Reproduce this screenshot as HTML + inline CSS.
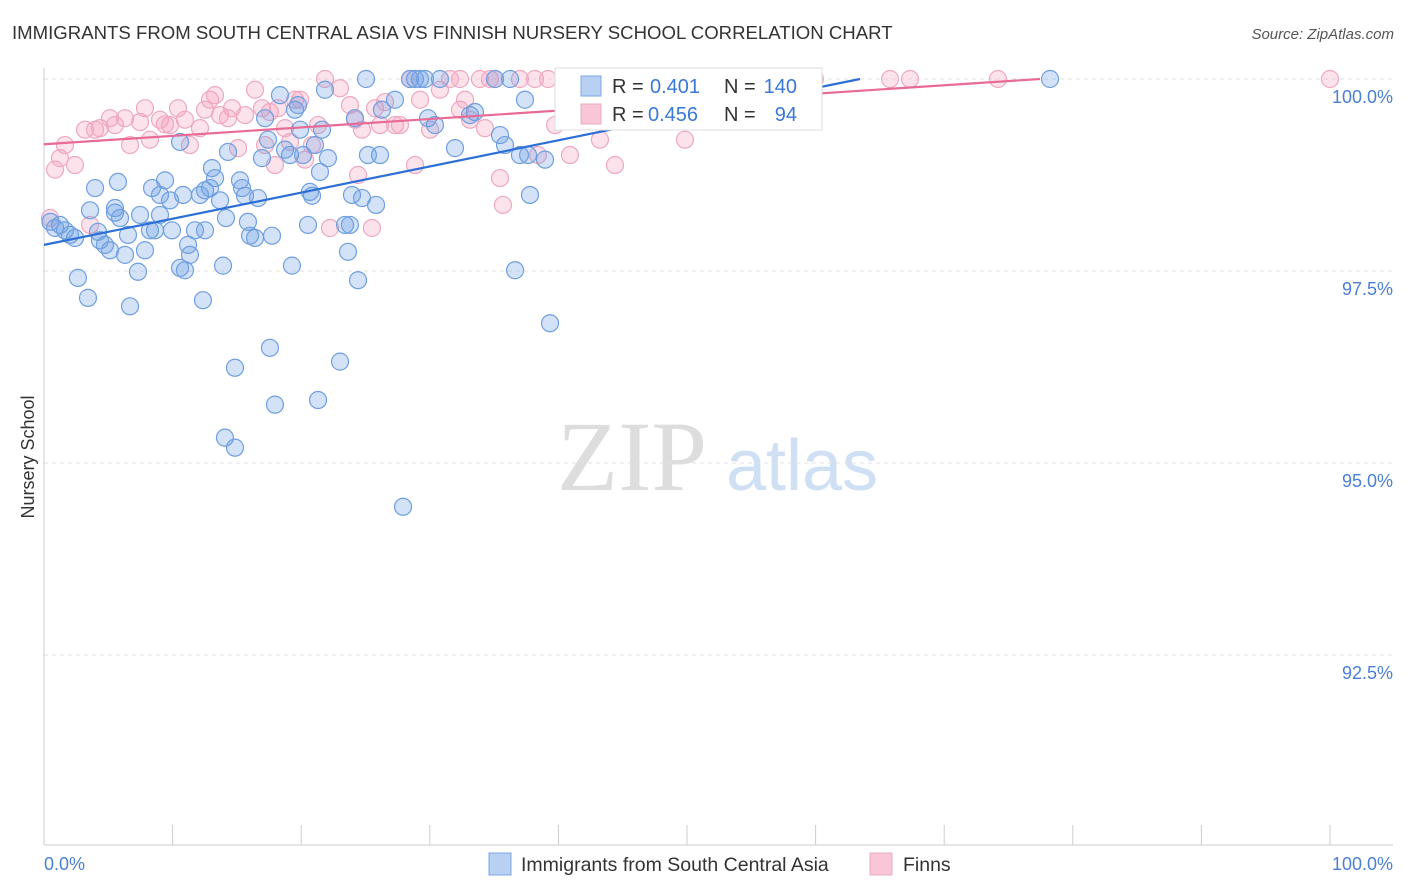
<!DOCTYPE html>
<html><head><meta charset="utf-8">
<style>
body{margin:0;background:#fff;font-family:"Liberation Sans",sans-serif;}
svg{display:block}
</style></head>
<body>
<svg id="chart" width="1406" height="892">
<text x="12" y="39" font-size="18.6" fill="#333">IMMIGRANTS FROM SOUTH CENTRAL ASIA VS FINNISH NURSERY SCHOOL CORRELATION CHART</text>
<text x="1394" y="39" font-size="15" fill="#555" font-style="italic" text-anchor="end">Source: ZipAtlas.com</text>
<text transform="translate(34,457) rotate(-90)" font-size="18" fill="#333" text-anchor="middle">Nursery School</text>
<g>
<text x="632" y="490" font-size="100" fill="#ddd" text-anchor="middle" font-family="Liberation Serif">ZIP</text>
<text x="802" y="490" font-size="72" fill="#cfe0f5" text-anchor="middle">atlas</text>
</g>
<g id="grid"></g>
<g id="axes"></g>
<g id="pts"></g>
<g id="lines"></g>
<g>
<rect x="555" y="68" width="267" height="62" fill="#fff" stroke="#ddd"/>
<rect x="581" y="76" width="20" height="20" fill="#b8d0f2" stroke="#7aa7e6"/>
<text x="612" y="93" font-size="20" fill="#333">R =</text>
<text x="650" y="93" font-size="20" fill="#3a78d6">0.401</text>
<text x="724" y="93" font-size="20" fill="#333">N =</text>
<text x="797" y="93" font-size="20" fill="#3a78d6" text-anchor="end">140</text>
<rect x="581" y="104" width="20" height="20" fill="#f8c6d6" stroke="#eea8c0"/>
<text x="612" y="121" font-size="20" fill="#333">R =</text>
<text x="648" y="121" font-size="20" fill="#3a78d6">0.456</text>
<text x="724" y="121" font-size="20" fill="#333">N =</text>
<text x="797" y="121" font-size="20" fill="#3a78d6" text-anchor="end">94</text>
</g>
<g>
<rect x="489" y="853" width="22" height="22" fill="#b8d0f2" stroke="#7aa7e6"/>
<text x="521" y="871" font-size="19.5" fill="#333">Immigrants from South Central Asia</text>
<rect x="870" y="853" width="22" height="22" fill="#f8c6d6" stroke="#eea8c0"/>
<text x="903" y="871" font-size="19.5" fill="#333">Finns</text>
</g>
</svg>
<script>
const yTicks=[100,97.5,95,92.5];
const yTickLabels=["100.0%","97.5%","95.0%","92.5%"];
const xTickLabels=["0.0%","100.0%"];
const blueX=[0.5,0.86,1.24,1.63,2.02,2.41,2.64,3.42,3.97,4.2,4.35,4.74,5.13,5.52,5.75,5.91,6.3,6.53,6.69,7.31,7.47,7.85,8.24,8.4,8.63,9.02,9.41,9.8,9.95,10.58,10.81,10.96,11.2,11.35,11.74,12.13,12.36,12.52,12.91,13.06,13.3,13.69,13.92,14.15,14.31,14.85,15.24,15.4,15.63,15.86,16.02,16.41,16.64,16.95,17.19,17.42,17.57,17.73,17.96,18.35,18.74,19.13,19.28,19.52,19.75,19.91,20.14,20.53,20.68,20.84,21.07,21.31,21.46,21.62,21.85,22.08,23.02,23.41,23.64,23.79,23.95,24.18,24.42,24.73,25.19,25.82,26.13,26.28,27.29,27.92,28.46,28.85,29.24,29.63,29.86,30.4,30.79,31.96,33.13,33.51,35.07,35.46,35.85,36.24,36.63,37.01,37.4,37.64,37.79,38.96,39.35,25.04,14.07,14.85,78.23,10.58,3.58,5.52,9.02,12.52];
const blueY=[98.14,98.06,98.1,98.03,97.97,97.93,97.41,97.15,98.58,98.01,97.9,97.84,97.77,98.32,98.66,98.19,97.71,97.97,97.04,97.49,98.23,97.77,98.03,98.58,98.03,98.23,98.68,98.42,98.03,99.18,98.49,97.51,97.84,97.71,98.03,98.49,97.12,98.03,98.58,98.84,98.71,98.42,97.57,98.19,99.05,96.24,98.68,98.58,98.48,98.14,97.96,97.93,98.45,98.97,99.49,99.21,96.5,97.96,95.76,99.79,99.08,99.01,97.57,99.6,99.66,99.34,99.01,98.1,98.53,98.48,99.14,95.82,98.79,99.34,99.86,98.97,96.32,98.1,97.75,98.1,98.49,99.49,97.38,98.45,99.01,98.36,99.01,99.6,99.73,94.43,100,100,100,100,99.49,99.4,100,99.1,99.53,99.57,100,99.27,99.14,100,97.51,99.01,99.73,99.01,98.49,98.95,96.82,100,95.33,95.2,100,97.54,98.29,98.26,98.49,98.55];
const pinkX=[0.47,0.86,1.24,1.63,2.41,3.19,3.97,4.35,5.13,5.52,6.3,6.69,7.47,7.85,8.24,9.02,9.41,9.8,10.42,10.96,11.35,12.13,12.52,12.91,13.3,13.69,14.31,14.62,15.09,15.63,16.41,16.95,17.57,17.96,18.2,18.74,19.13,19.52,19.91,20.3,20.84,21.31,21.85,22.24,23.02,23.79,24.18,24.42,24.73,25.5,25.74,26.13,26.52,27.29,27.68,28.46,28.85,29.24,30.02,30.79,31.57,32.35,32.74,33.13,33.9,34.68,35.07,35.46,35.69,37.01,38.18,38.41,39.19,39.74,40.9,41.68,43.23,44.4,46.35,49.46,49.84,54.12,55.68,58.79,59.95,65.79,67.34,74.18,100,34.29,17.19,3.58,32.35];
const pinkY=[98.19,98.82,98.97,99.14,98.88,99.34,99.34,99.36,99.49,99.4,99.49,99.14,99.44,99.62,99.21,99.47,99.41,99.4,99.62,99.47,99.14,99.36,99.6,99.73,99.79,99.53,99.49,99.62,99.1,99.53,99.86,99.62,99.57,98.88,99.62,99.36,99.18,99.73,99.73,98.95,99.14,99.4,100,98.06,99.88,99.66,99.47,98.75,99.34,98.06,99.62,99.4,99.7,99.4,99.4,100,98.88,99.73,99.34,99.86,100,99.6,99.73,99.47,100,100,100,98.71,98.36,100,100,99.01,100,99.4,99.01,100,99.21,98.88,100,100,99.21,100,100,100,100,100,100,100,100,99.36,99.14,98.1,100];
const blueLine=[[0,97.84],[63.45,100]];
const pinkLine=[[0,99.15],[77.45,100]];

const NS="http://www.w3.org/2000/svg";
const sx=v=>44+v*12.86;
const sy=v=>79+(100-v)*76.8;
function mk(tag,attrs,parent){const e=document.createElementNS(NS,tag);for(const k in attrs)e.setAttribute(k,attrs[k]);parent.appendChild(e);return e;}
const grid=document.getElementById('grid'),axes=document.getElementById('axes'),pts=document.getElementById('pts'),lines=document.getElementById('lines');
yTicks.forEach((t,i)=>{
  const l=mk('line',{x1:44,x2:1393,y1:sy(t),y2:sy(t),stroke:'#e2e2e2','stroke-dasharray':'4,4'},grid);
  
  
  const tx=mk('text',{x:1393,y:sy(t)+24,'font-size':18,fill:'#4a7fd4','text-anchor':'end'},axes);
  tx.textContent=yTickLabels[i];
  
  
});
const ax=mk('line',{x1:44,x2:1393,y1:845,y2:845,stroke:'#ccc'},axes);


const ay=mk('line',{x1:44,x2:44,y1:68,y2:845,stroke:'#ccc'},axes);


for(let i=0;i<=10;i++){
  const t=mk('line',{x1:sx(i*10),x2:sx(i*10),y1:825,y2:845,stroke:'#ccc'},axes);
  
  
}
[[0,'start',44],[100,'end',1393]].forEach((d,i)=>{
  const tx=mk('text',{x:d[2],y:870,'font-size':18,fill:'#4a7fd4','text-anchor':d[1]},axes);
  tx.textContent=xTickLabels[i];
  
  
});
pinkX.forEach((x,i)=>{
  const c=mk('circle',{cx:sx(x),cy:sy(pinkY[i]),r:8.5,fill:'rgba(244,160,190,0.3)',stroke:'#eea8c0','stroke-width':1.2},pts);
  
  
});
blueX.forEach((x,i)=>{
  const c=mk('circle',{cx:sx(x),cy:sy(blueY[i]),r:8.5,fill:'rgba(110,160,230,0.3)',stroke:'#6f9fe0','stroke-width':1.2},pts);
  
  
});
const bl=mk('line',{x1:sx(blueLine[0][0]),y1:sy(blueLine[0][1]),x2:sx(blueLine[1][0]),y2:sy(blueLine[1][1]),stroke:'#2d6fd6','stroke-width':2.2},lines);


const pl=mk('line',{x1:sx(pinkLine[0][0]),y1:sy(pinkLine[0][1]),x2:sx(pinkLine[1][0]),y2:sy(pinkLine[1][1]),stroke:'#e86a96','stroke-width':2.2},lines);


</script>
</body></html>
